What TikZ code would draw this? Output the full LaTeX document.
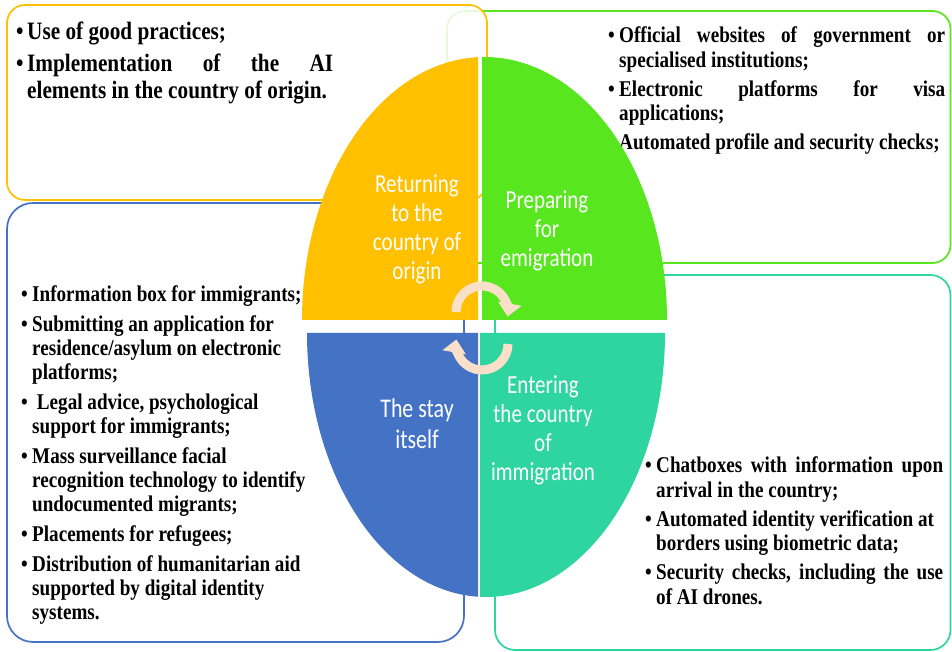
\documentclass[tikz,border=0pt]{standalone}
\usepackage{fontspec}
\setmainfont{Liberation Serif}
\newfontfamily\listfont{Liberation Serif}[FakeStretch=0.85]
\newfontfamily\phasefont{Carlito}[FakeStretch=0.81]
\usetikzlibrary{arrows.meta}

\definecolor{yellowq}{HTML}{FFC000}
\definecolor{greenq}{HTML}{58E61E}
\definecolor{blueq}{HTML}{4472C4}
\definecolor{tealq}{HTML}{2ED59E}
\definecolor{turnc}{HTML}{FAE0C8}

% bullet item with hanging indent
\newcommand{\bul}{\par\hangindent=11pt\hangafter=1\noindent\makebox[11pt][l]{\textbullet}}
% list block: width, gap between items, items
\newcommand{\listblock}[3]{\begin{minipage}[t]{#1}\tolerance=10000\hbadness=10000\parskip=#2\relax #3\end{minipage}}

\begin{document}
\begin{tikzpicture}
			[x=1pt, y=1pt,
			infobox/.style={line width=1.7pt, fill=white},
			list/.style={anchor=base west, inner sep=0pt, font=\listfont\bfseries\fontsize{22.5}{24.5}\selectfont},
			phase/.style={text=white, align=center, inner sep=0pt, font=\phasefont\fontsize{26}{29}\selectfont},
			turn/.style={line width=9pt, draw=turnc, -{Triangle[width=23pt,length=13pt]}},]
			\useasboundingbox (0,0) rectangle (952,652);

			% boxes behind the oval
			\draw[infobox, draw=greenq, rounded corners=18pt] (447,389) rectangle (950.5,641);
			\draw[infobox, draw=yellowq, fill opacity=0.85, rounded corners=18pt] (7,452) rectangle (487,647);
			\draw[infobox, draw=blueq, rounded corners=26pt] (7,10) rectangle (464,449);
			\draw[infobox, draw=tealq, rounded corners=20pt] (495,2) rectangle (950.5,377);

			\node[list, font=\listfont\bfseries\fontsize{25}{26.5}\selectfont] (L1) at (16,612)
				{\listblock{317pt}{5.5pt}{%
				\bul Use of good practices;
				\bul Implementation of the AI\linebreak elements in the country of origin.}};
			\node[list] (L2) at (608,609)
				{\listblock{337pt}{4.5pt}{%
				\bul Official websites of government or\linebreak specialised institutions;
				\bul Electronic platforms for visa\linebreak applications;
				\bul Automated profile and security checks;}};
			\node[list, font=\listfont\bfseries\fontsize{22.5}{24}\selectfont] (L3) at (21,350)
				{\listblock{300pt}{6pt}{%
				\bul Information box for immigrants;
				\bul Submitting an application for\\ residence/asylum on electronic\\ platforms;
				\bul\ Legal advice, psychological\\ support for immigrants;
				\bul Mass surveillance facial\\ recognition technology to identify\\ undocumented migrants;
				\bul Placements for refugees;
				\bul Distribution of humanitarian aid\\ supported by digital identity\\ systems.}};
			\node[list] (L4) at (645,179)
				{\listblock{298pt}{4.5pt}{%
				\bul Chatboxes with information upon\linebreak arrival in the country;
				\bul Automated identity verification at\\ borders using biometric data;
				\bul Security checks, including the use\linebreak of AI drones.}};

			% the four quarters of the oval
			\fill[yellowq] (478,332) -- (302,332) arc[start angle=180, end angle=92.04, x radius=182.5, y radius=263] -- cycle;
			\fill[greenq] (482,332) -- (667,332) arc[start angle=0, end angle=90.78, x radius=182.5, y radius=263] -- cycle;
			\fill[blueq] (478,319) -- (307,319) arc[start angle=180, end angle=267.44, x radius=179, y radius=264] -- cycle;
			\fill[tealq] (480,319) -- (665,319) arc[start angle=0, end angle=-91.92, x radius=179, y radius=264] -- cycle;

			\node[phase] (Q1) at (417,423) {Returning\\to the\\country of\\origin};
			\node[phase] (Q2) at (547,421) {Preparing\\for\\emigration};
			\node[phase, font=\phasefont\fontsize{27}{31}\selectfont] (Q3) at (417,228) {The stay\\itself};
			\node[phase] (Q4) at (543,222) {Entering\\the country\\of\\immigration};

			\draw[turn] (456,340) arc[start angle=180, end angle=-10, radius=26];
			\draw[turn] (508,308) arc[start angle=0, end angle=-190, radius=26];
			\end{tikzpicture}
\end{document}
